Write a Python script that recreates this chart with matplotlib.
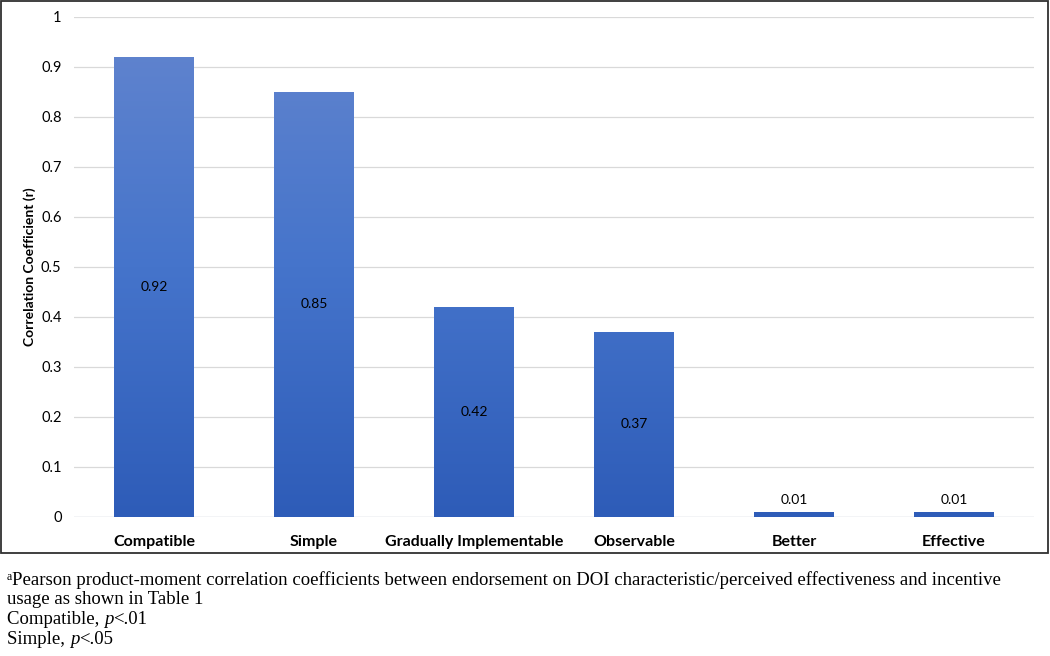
import matplotlib
matplotlib.use("Agg")
import matplotlib.pyplot as plt
import numpy as np
from matplotlib.patches import Rectangle
from matplotlib.colors import LinearSegmentedColormap
from matplotlib.offsetbox import TextArea, HPacker, AnchoredOffsetbox

categories = ["Compatible", "Simple", "Gradually Implementable", "Observable", "Better", "Effective"]
values = [0.92, 0.85, 0.42, 0.37, 0.01, 0.01]
yticks = [0, 0.1, 0.2, 0.3, 0.4, 0.5, 0.6, 0.7, 0.8, 0.9, 1]
ytick_labels = ["0", "0.1", "0.2", "0.3", "0.4", "0.5", "0.6", "0.7", "0.8", "0.9", "1"]
ylabel = "Correlation Coefficient (r)"
footnotes = ["Pearson product-moment correlation coefficients between endorsement on DOI characteristic/perceived effectiveness and incentive",
             "usage as shown in Table 1"]

font = "Lato"
fig = plt.figure(figsize=(10.5, 6.56), dpi=100)
ax = fig.add_axes([74/1050, 1-517/656, 960/1050, 500/656])

x = np.arange(len(categories))
bars = ax.bar(x, values, width=0.5, color="#4472C4", zorder=2)

cmap = LinearSegmentedColormap.from_list("g", ["#2E5CB8", "#4574CB", "#6385CE"])
grad = np.linspace(0, 1, 256).reshape(-1, 1)
for b, v in zip(bars, values):
    b.set_alpha(0)
    x0 = b.get_x(); w = b.get_width()
    im = ax.imshow(grad, extent=[x0, x0 + w, 0, 1], origin="lower", cmap=cmap,
                   aspect="auto", zorder=2)
    clip = Rectangle((x0, 0), w, v, transform=ax.transData)
    im.set_clip_path(clip)
ax.set_xlim(-0.5, len(categories) - 0.5)
ax.set_ylim(0, 1)

for xi, v in zip(x, values):
    if v > 0.1:
        ax.text(xi, v / 2, f"{v:.2f}", ha="center", va="center", fontsize=10,
                family=font, color="#000000", zorder=3)
    else:
        ax.text(xi, v + 0.012, f"{v:.2f}", ha="center", va="bottom", fontsize=10,
                family=font, color="#000000", zorder=3)

ax.set_yticks(yticks)
ax.set_yticklabels(ytick_labels, family=font, fontsize=10.5)
ax.set_xticks(x)
ax.set_xticklabels(categories, family=font, fontsize=11.5, fontweight="bold")
ax.tick_params(axis="both", length=0)
ax.tick_params(axis="y", pad=9)
ax.tick_params(axis="x", pad=13)
ax.grid(axis="y", color="#D9D9D9", lw=0.9, zorder=0)
ax.set_axisbelow(True)
for s in ax.spines.values():
    s.set_visible(False)
ax.axhline(0, color="#D9DEE6", lw=1.0, zorder=1)
ax.set_ylabel(ylabel, family=font, fontsize=10, fontweight="bold")
ax.yaxis.set_label_coords(-38/960, 0.5)

# frame border around chart area
fig.patches.append(Rectangle((1/1050, 1-553/656), 1047/1050, 552/656,
                             transform=fig.transFigure, fill=False,
                             edgecolor="#303030", lw=1.3))

serif = "Liberation Serif"
FS = 13.5

def line(y, parts, x0=7):
    boxes = [TextArea(s, textprops=dict(fontsize=fs, family=serif, style=st)) for s, st, fs in parts]
    pk = HPacker(children=boxes, pad=0, sep=0, align="top")
    ab = AnchoredOffsetbox(loc="center left", child=pk, frameon=False, pad=0, borderpad=0,
                           bbox_to_anchor=(x0/1050, 1-y/656), bbox_transform=fig.transFigure)
    fig.add_artist(ab)

line(580, [("a", "normal", 8.5), (footnotes[0], "normal", FS)])
line(600, [(footnotes[1], "normal", FS)])
line(620, [("Compatible, ", "normal", FS), ("p", "italic", FS), ("<.01", "normal", FS)])
line(640, [("Simple, ", "normal", FS), ("p", "italic", FS), ("<.05", "normal", FS)])

fig.savefig("out.png", dpi=100)
